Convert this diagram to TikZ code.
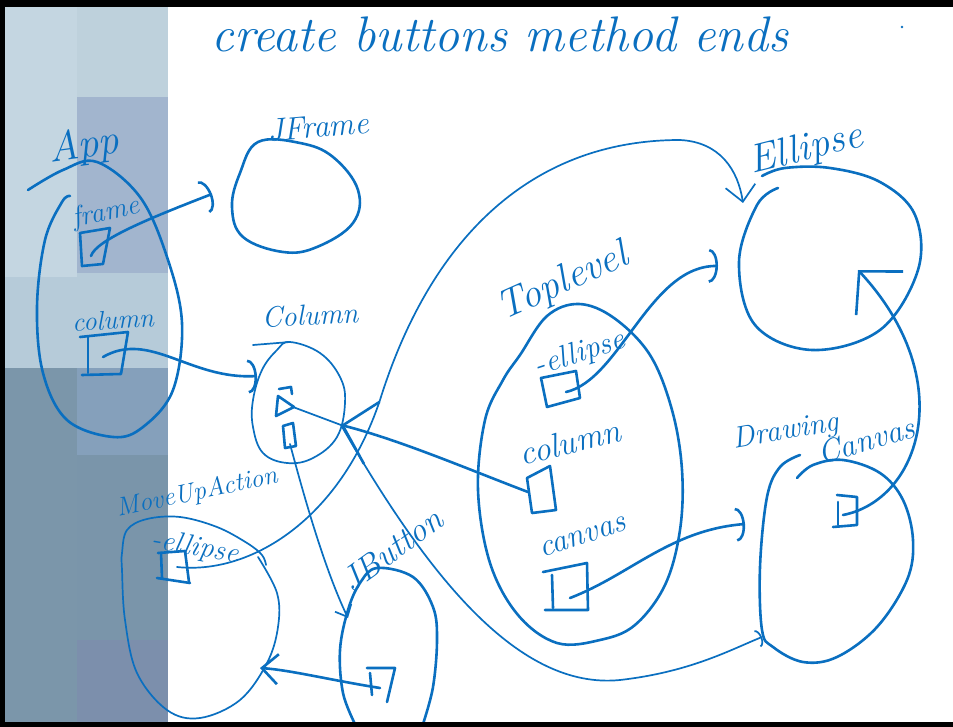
\documentclass[tikz,border=0pt]{standalone}
\usetikzlibrary{arrows.meta}
\definecolor{ink}{HTML}{0A6FC0}
\definecolor{paneA}{HTML}{C4D6E1}
\definecolor{paneB}{HTML}{BED1DC}
\definecolor{paneC}{HTML}{A2B5CE}
\definecolor{paneD}{HTML}{B6CBD9}
\definecolor{paneE}{HTML}{7B96AA}
\definecolor{paneF}{HTML}{85A0BB}
\definecolor{paneG}{HTML}{7A95AA}
\definecolor{paneH}{HTML}{7C8FAC}
\begin{document}
\begin{tikzpicture}[x=1pt,y=-1pt,
  pen/.style={draw=ink,line width=2.6pt,line cap=round,line join=round},
  thinpen/.style={draw=ink,line width=1.7pt,line cap=round,line join=round},
  hand/.style={text=ink,inner sep=0pt,font=\itshape\fontsize{#1}{#1}\selectfont},
  arcbarb/.style={-{Arc Barb[length=9pt,width=34pt]}},
  smallarc/.style={-{Arc Barb[length=5pt,width=18pt]}},
  barb/.style={-{Straight Barb[length=16pt,width=30pt]}},
  widebarb/.style={-{Straight Barb[length=30pt,width=64pt]}},
  smallbarb/.style={-{Straight Barb[length=10pt,width=18pt]}}]

% page and the tinted strip on the left
\useasboundingbox (0,0) rectangle (953,727);
\fill[white] (0,0) rectangle (953,727);
\fill[paneA] (5,7) rectangle (77,277);
\fill[paneB] (77,7) rectangle (168,97);
\fill[paneC] (77,97) rectangle (168,273);
\fill[paneD] (5,277) rectangle (77,368);
\fill[paneD] (77,273) rectangle (168,368);
\fill[paneE] (5,368) rectangle (77,722);
\fill[paneF] (77,368) rectangle (168,455);
\fill[paneG] (77,455) rectangle (168,640);
\fill[paneH] (77,640) rectangle (168,722);

% heading
\node[hand=50, anchor=base] (title) at (500,52) {create buttons method ends};
\fill[ink] (902,27) circle (1.3);

% ---------- App ----------
\node[hand=42, rotate=8] (applbl) at (84,147) {App};
\draw[pen] plot[smooth, tension=0.6] coordinates {(28,190) (63,170) (97,162) (140,197) (167,257) (182,323) (173,390) (143,427) (113,437) (67,420) (43,373) (37,307) (45,240) (62,202) (70,196)};
\node[hand=28, rotate=12] (framelbl) at (106,213) {frame};
\draw[pen] (80,233) -- (110,228) -- (103,264) -- (82,266) -- cycle;
\coordinate (frameref) at (91,256);
\node[hand=27, rotate=3] (appcollbl) at (113,320) {column};
\draw[pen] (80,337) -- (128,332) -- (121,374) -- (82,375);
\draw[pen] (88,337) -- (88,373);
\coordinate (appcolref) at (103,357);

% ---------- JFrame ----------
\node[hand=32, rotate=5] (jframelbl) at (318,127) {JFrame};
\draw[pen] plot[smooth cycle, tension=0.65] coordinates {(258,142) (300,143) (333,157) (358,190) (353,223) (317,247) (283,252) (243,237) (232,207) (240,173)};
\coordinate (jframe) at (212,194);

% ---------- Column ----------
\node[hand=29, rotate=3] (columnlbl) at (310,315) {Column};
\draw[thinpen] (253,345) -- (290,342);
\draw[thinpen] plot[smooth cycle, tension=0.65] coordinates {(290,342) (320,353) (340,377) (345,403) (337,437) (313,458) (287,463) (263,453) (253,427) (253,400) (262,370) (277,350)};
\coordinate (column) at (257,376);
\coordinate (columnedge) at (341,425);
\draw[pen] (279,389) -- (291,387) -- (292,394);
\draw[pen] (278,396) -- (294,407) -- (276,416) -- cycle;
\draw[pen] (283,426) -- (293,423) -- (296,446) -- (285,448) -- cycle;
\coordinate (colslotA) at (293,407);
\coordinate (colslotB) at (290,444);

% ---------- Ellipse ----------
\node[hand=40, rotate=14] (ellipselbl) at (806,150) {Ellipse};
\draw[pen] plot[smooth, tension=0.6] coordinates {(778,188) (757,205) (739,262) (755,325) (812,350) (880,330) (918,270) (915,215) (880,182) (830,168) (785,168) (762,176)};
\coordinate (ellipsetop) at (743,203);
\coordinate (ellipsein) at (858,270);
\coordinate (ellipseside) at (718,266);

% ---------- Toplevel ----------
\node[hand=40, rotate=24] (toplevellbl) at (563,283) {Toplevel};
\draw[pen] plot[smooth cycle, tension=0.6] coordinates {(520,355) (547,316) (579,304) (614,318) (650,355) (672,410) (682,470) (680,530) (665,585) (635,625) (600,640) (557,643) (518,615) (490,563) (478,490) (485,420) (503,380)};
\node[hand=31, rotate=18] (tellipselbl) at (580,354) {-ellipse};
\draw[pen] (541,378) -- (576,371) -- (580,398) -- (547,407) -- cycle;
\coordinate (tellref) at (566,392);
\node[hand=34, rotate=14] (tcollbl) at (570,442) {column};
\draw[pen] (527,478) -- (550,466) -- (556,510) -- (532,513) -- cycle;
\coordinate (tcolref) at (528,492);
\node[hand=32, rotate=18] (tcanlbl) at (583,537) {canvas};
\draw[pen] (543,572) -- (587,563) -- (588,610) -- (545,610);
\draw[pen] (552,575) -- (553,608);
\coordinate (tcanref) at (570,598);

% ---------- Drawing Canvas ----------
\node[hand=30, rotate=10] (drawinglbl) at (786,432) {Drawing};
\node[hand=32, rotate=16] (canvaslbl) at (866,440) {Canvas};
\draw[pen] plot[smooth, tension=0.6] coordinates {(800,455) (780,467) (767,497) (760,567) (762,630) (773,647) (803,662) (837,657) (877,627) (907,580) (913,540) (903,500) (880,473) (843,460) (813,465) (797,478)};
\draw[pen] (838,502) -- (838,525);
\draw[pen] (837,495) -- (857,497) -- (857,525) -- (833,527);
\coordinate (dcref) at (843,515);
\coordinate (dcside) at (745,524);
\coordinate (dcbottom) at (762,637);

% ---------- MoveUpAction ----------
\node[hand=26, rotate=12] (moveuplbl) at (197,493) {MoveUpAction};
\draw[thinpen] plot[smooth, tension=0.6] coordinates {(266,565) (262,555) (247,543) (217,527) (180,517) (147,519) (127,530) (122,553) (122,570) (125,620) (137,673) (167,710) (200,718) (240,700) (267,663) (278,627) (277,593) (258,557)};
\node[hand=29, rotate=-10] (mellipselbl) at (195,548) {-ellipse};
\draw[pen] (158,553) -- (185,551) -- (189,582);
\draw[pen] (161,553) -- (162,578);
\draw[pen] (157,578) -- (190,583);
\coordinate (mellref) at (177,567);
\coordinate (moveup) at (260,668);

% ---------- JButton ----------
\node[hand=34, rotate=36] (jbuttonlbl) at (392,550) {JButton};
\draw[pen] plot[smooth, tension=0.6] coordinates {(355,724) (343,693) (340,650) (348,610) (360,583) (377,568) (413,577) (433,607) (437,640) (433,687) (423,724)};
\draw[pen] (367,668) -- (395,668) -- (387,702);
\draw[pen] (370,673) -- (372,695);
\coordinate (jbref) at (380,688);
\coordinate (jbutton) at (348,618);

% ---------- references ----------
\draw[pen, arcbarb] (frameref) .. controls (96,240) and (150,218) .. (jframe);
\draw[pen, arcbarb] (appcolref) .. controls (150,330) and (190,380) .. (column);
\draw[pen, widebarb] (tcolref) .. controls (470,470) and (400,440) .. (columnedge);
\draw[thinpen, smallarc] (colslotA) -- (columnedge) .. controls (430,580) and (520,690) .. (620,680) .. controls (690,672) and (730,650) .. (dcbottom);
\draw[thinpen, smallbarb] (colslotB) .. controls (305,500) and (325,570) .. (jbutton);
\draw[thinpen, barb] (mellref) .. controls (250,575) and (340,520) .. (380,400) .. controls (430,240) and (530,140) .. (680,140) .. controls (720,142) and (738,170) .. (ellipsetop);
\draw[pen, arcbarb] (tellref) .. controls (620,380) and (650,265) .. (ellipseside);
\draw[pen, arcbarb] (tcanref) .. controls (630,575) and (670,530) .. (dcside);
\draw[pen, barb] (jbref) .. controls (330,680) and (290,670) .. (moveup);
\draw[pen, widebarb] (dcref) .. controls (920,500) and (960,380) .. (ellipsein);

% frame
\fill[black] (0,0) rectangle (953,7);
\fill[black] (0,0) rectangle (5,727);
\fill[black] (0,722) rectangle (953,727);
\end{tikzpicture}
\end{document}
